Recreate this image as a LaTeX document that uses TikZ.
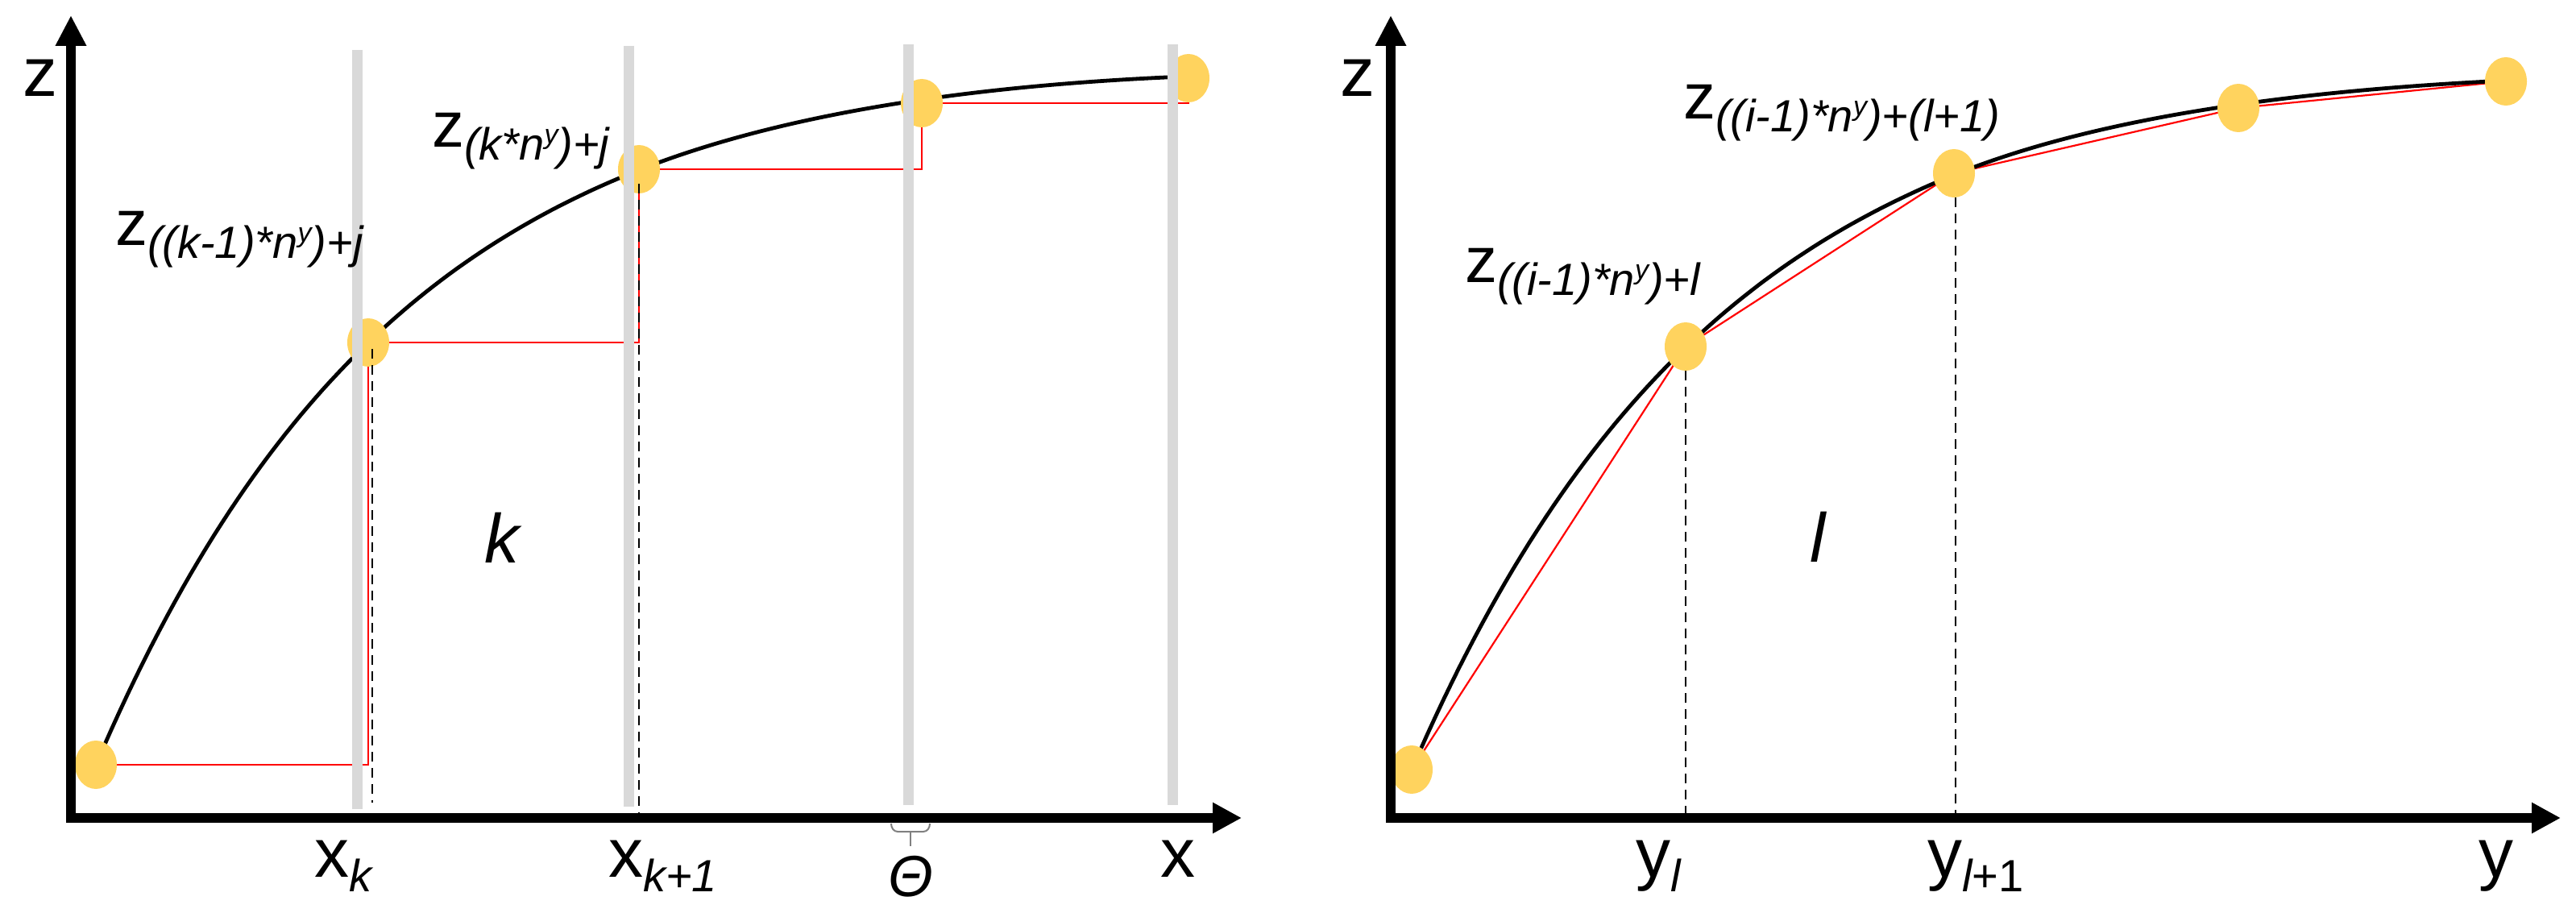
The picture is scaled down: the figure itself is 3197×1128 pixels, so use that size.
\documentclass[tikz,border=0pt]{standalone}
\usepackage{fontspec}
\setmainfont{Liberation Sans}
\usetikzlibrary{arrows.meta,shapes.geometric}
\definecolor{dotyellow}{RGB}{255,211,94}
\definecolor{bargray}{RGB}{217,217,217}
\definecolor{stepred}{RGB}{255,0,0}
\newcommand{\bigf}{\fontsize{40}{40}\selectfont}
\newcommand{\axf}{\fontsize{43}{43}\selectfont}
\newcommand{\subf}{\fontsize{28}{28}\selectfont\itshape}
\newcommand{\supf}{\fontsize{17}{17}\selectfont\itshape}
\newcommand{\zsub}[1]{{\bigf z}\raisebox{-8pt}{\subf #1}}
\newcommand{\nyy}{n\raisebox{10pt}{\supf y}}
\newcommand{\axsub}[2]{{\axf #1}\raisebox{-9pt}{\subf #2}}
\begin{document}
\begin{tikzpicture}[x=0.5pt,y=-0.5pt,
  dot/.style={ellipse, fill=dotyellow, draw=none, minimum width=26pt, minimum height=30pt, inner sep=0pt},
  bar/.style={draw=bargray, line width=6.5pt},
  axis/.style={line width=6pt, line join=miter, {Triangle[length=19pt,width=18pt]}-{Triangle[length=18pt,width=18pt]}},
  curve/.style={line width=2.4pt, line cap=round},
  stepline/.style={draw=stepred, line width=1.1pt},
  guide/.style={line width=1pt, dash pattern=on 6pt off 4pt},
  lbl/.style={anchor=base west, inner sep=0pt, outer sep=0pt},
  clbl/.style={anchor=base, inner sep=0pt, outer sep=0pt},
]
\useasboundingbox (0,0) rectangle (3197,1128);

% point positions
\coordinate (l0) at (119,949);
\coordinate (l1) at (457,425);
\coordinate (l2) at (793,210);
\coordinate (l3) at (1144,128);
\coordinate (l4) at (1475,97);
\coordinate (r0) at (1752,955);
\coordinate (r1) at (2092,430);
\coordinate (r2) at (2425,215);
\coordinate (r3) at (2778,134);
\coordinate (r4) at (3110,101);

% red approximations
\draw[stepline] (l0) -| (l1) -| (l2) -| (l3) -| (l4);
\draw[stepline] (r0) -- (r1) -- (r2) -- (r3) -- (r4);

% true curves
\draw[curve] plot[domain=0:674, samples=70] ({119+\x},{61+888*exp(-\x/379)})
  .. controls (993,132) and (1250,104) .. (1470,95);
\draw[curve] plot[domain=0:673, samples=70] ({1752+\x},{61+894*exp(-\x/385.6)})
  .. controls (2625,136) and (2900,110) .. (3110,100);

% dots
\foreach \n in {0,...,4} {
  \node[dot] (L\n) at (l\n) {};
  \node[dot] (R\n) at (r\n) {};
}

% gray bars
\coordinate (b1t) at (443,62);   \coordinate (b1b) at (443,1004);
\coordinate (b2t) at (780,57);   \coordinate (b2b) at (780,1001);
\coordinate (b3t) at (1127,55);  \coordinate (b3b) at (1127,999);
\coordinate (b4t) at (1455,55);  \coordinate (b4b) at (1455,999);
\draw[bar] (b1t) -- (b1b);
\draw[bar] (b2t) -- (b2b);
\draw[bar] (b3t) -- (b3b);
\draw[bar] (b4t) -- (b4b);

% dashed guides
\coordinate (g1b) at (462,996);
\coordinate (g2b) at (793,1022);
\coordinate (g3b) at (2092,1010);
\coordinate (g4b) at (2427,1010);
\draw[guide] (L1) ++(5,8) -- (g1b);
\draw[guide] (L2) ++(0,18) -- (g2b);
\draw[guide] (R1) ++(0,30) -- (g3b);
\draw[guide] (R2) ++(2,30) -- (g4b);

% axes
\coordinate (LYtip) at (88,19);  \coordinate (Lorig) at (88,1015);  \coordinate (LXtip) at (1541,1015);
\coordinate (RYtip) at (1726,19); \coordinate (Rorig) at (1726,1015); \coordinate (RXtip) at (3178,1015);
\draw[axis] (LYtip) -- (Lorig) -- (LXtip);
\draw[axis] (RYtip) -- (Rorig) -- (RXtip);

% theta brace
\draw[gray, line width=1pt] (1106,1022) to[out=-90,in=180] (1114,1032) -- (1146,1032) to[out=0,in=-90] (1154,1022);
\draw[gray, line width=1pt] (1130,1032) -- (1130,1050);

% axis labels
\node[lbl] (zL) at (28,120) {\axf z};
\node[lbl] (zR) at (1663,120) {\axf z};
\node[lbl] (xk) at (390,1088) {\axsub{x}{k}};
\node[lbl] (xk1) at (755,1088) {\axsub{x}{k+1}};
\node[clbl] (theta) at (1130,1112) {\fontsize{36}{36}\selectfont\itshape Θ};
\node[lbl] (xax) at (1440,1088) {\axf x};
\node[lbl] (yl) at (2030,1088) {\axsub{y}{l}};
\node[lbl] (yl1) at (2392,1088) {{\axf y}\raisebox{-9pt}{\fontsize{28}{28}\selectfont{\itshape l}+1}};
\node[lbl] (yax) at (3076,1088) {\axf y};

% region labels
\node[clbl] (kreg) at (623,698) {\fontsize{43}{43}\selectfont\itshape k};
\node[clbl] (lreg) at (2256,697) {\fontsize{43}{43}\selectfont\itshape l};

% point labels
\node[lbl] (zA) at (143,305) {\zsub{((k-1)*\nyy)+j}};
\node[lbl] (zB) at (536,183) {\zsub{(k*\nyy)+j}};
\node[lbl] (zC) at (1818,351) {\zsub{((i-1)*\nyy)+l}};
\node[lbl] (zD) at (2089,148) {\zsub{((i-1)*\nyy)+(l+1)}};
\end{tikzpicture}
\end{document}
